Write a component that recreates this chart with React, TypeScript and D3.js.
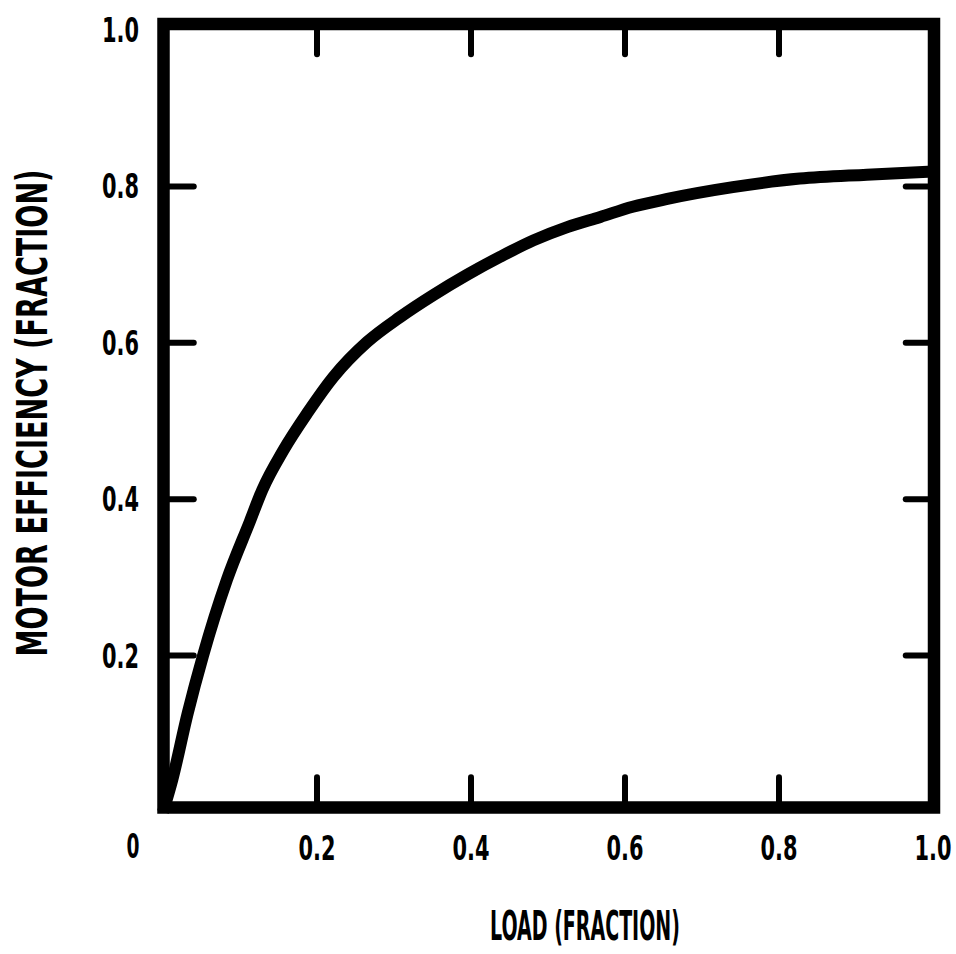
import React, { useEffect, useRef } from 'react';
import * as d3 from 'd3';

// Load (fraction of rated load)
const loads = [
  0, 0.012, 0.032, 0.052, 0.083, 0.113, 0.129, 0.156, 0.188, 0.221, 0.265, 0.308,
  0.351, 0.395, 0.438, 0.481, 0.525, 0.568, 0.61, 0.655, 0.74, 0.827, 0.914, 1.0,
];

// Motor efficiency (fraction) at each load
const efficiencies = [
  0, 0.041, 0.126, 0.2, 0.297, 0.372, 0.412, 0.462, 0.511, 0.556, 0.601, 0.633,
  0.661, 0.687, 0.71, 0.731, 0.748, 0.761, 0.774, 0.784, 0.799, 0.81, 0.815, 0.819,
];

// Tick values and their labels
const xTicks = [0.2, 0.4, 0.6, 0.8, 1.0];
const yTicks = [0.2, 0.4, 0.6, 0.8, 1.0];
const innerTicks = [0.2, 0.4, 0.6, 0.8];

const xTitle = 'LOAD (FRACTION)';
const yTitle = 'MOTOR EFFICIENCY (FRACTION)';

const FONT = '"DejaVu Sans Condensed", "Liberation Sans", sans-serif';

const App = () => {
  const chartRef = useRef<SVGSVGElement | null>(null);

  useEffect(() => {
    const width = 956;
    const height = 954;

    const svg = d3.select(chartRef.current)
      .attr('width', width)
      .attr('height', height);
    svg.selectAll('*').remove();

    // Scales
    const xScale = d3.scaleLinear().domain([0, 1]).range([163, 933]);
    const yScale = d3.scaleLinear().domain([0, 1]).range([812, 30]);

    // Narrow bold lettering: draw the text, then squeeze it to the wanted width
    const narrowText = (
      x: number, y: number, str: string, size: number, target: number,
      anchor: string, rotate = 0,
    ) => {
      const g = svg.append('g');
      const t = g.append('text')
        .attr('text-anchor', anchor)
        .attr('font-family', FONT)
        .attr('font-weight', 'bold')
        .attr('font-size', size)
        .text(str);
      const len = (t.node() as SVGTextElement).getComputedTextLength() || target;
      g.attr('transform', `translate(${x},${y}) rotate(${rotate}) scale(${target / len},1)`);
    };

    // Thick frame around the plot
    const left = xScale(0) + 0.5;
    const right = xScale(1) + 1;
    const top = yScale(1) - 6;
    const bottom = yScale(0) - 4.5;
    const frameWidth = 12.5;

    svg.append('rect')
      .attr('x', left)
      .attr('y', top)
      .attr('width', right - left)
      .attr('height', bottom - top)
      .attr('fill', 'none')
      .attr('stroke', 'black')
      .attr('stroke-width', frameWidth)
      .attr('stroke-linejoin', 'miter');

    // Inward ticks on all four sides
    const tickLen = 24 + frameWidth / 2;
    const tickStyle = (sel: any) => sel
      .attr('stroke', 'black')
      .attr('stroke-width', 6)
      .attr('stroke-linecap', 'round');

    // bottom
    svg.selectAll('.tick-bottom').data(innerTicks).enter().append('line')
      .attr('x1', d => xScale(d)).attr('x2', d => xScale(d))
      .attr('y1', bottom).attr('y2', bottom - tickLen)
      .call(tickStyle);
    // top
    svg.selectAll('.tick-top').data(innerTicks).enter().append('line')
      .attr('x1', d => xScale(d)).attr('x2', d => xScale(d))
      .attr('y1', top).attr('y2', top + tickLen)
      .call(tickStyle);
    // left
    svg.selectAll('.tick-left').data(innerTicks).enter().append('line')
      .attr('x1', left).attr('x2', left + tickLen)
      .attr('y1', d => yScale(d)).attr('y2', d => yScale(d))
      .call(tickStyle);
    // right
    svg.selectAll('.tick-right').data(innerTicks).enter().append('line')
      .attr('x1', right).attr('x2', right - tickLen + 2)
      .attr('y1', d => yScale(d)).attr('y2', d => yScale(d))
      .call(tickStyle);

    // The efficiency curve
    const points: [number, number][] = loads.map((l, i) => [l, efficiencies[i]]);
    const line = d3.line<[number, number]>()
      .x(d => xScale(d[0]))
      .y(d => yScale(d[1]))
      .curve(d3.curveMonotoneX);

    svg.append('path')
      .datum(points)
      .attr('d', line)
      .attr('fill', 'none')
      .attr('stroke', 'black')
      .attr('stroke-width', 12)
      .attr('stroke-linejoin', 'round');

    // Tick labels
    const labelSize = 33;
    yTicks.forEach(d => narrowText(139, yScale(d) + 12, d.toFixed(1), labelSize, 37, 'end'));
    xTicks.forEach(d => narrowText(xScale(d), 860, d.toFixed(1), labelSize, 37, 'middle'));

    // shared origin label, set off to the lower left
    narrowText(xScale(0) - 30, 858, '0', labelSize, 13, 'middle');

    // Axis titles
    narrowText(585, 940, xTitle, 41, 190, 'middle');
    narrowText(47, 413, yTitle, 42, 487, 'middle', -90);
  }, []);

  return (
    <svg ref={chartRef} style={{ position: 'absolute', left: 0, top: 0, background: 'white' }}></svg>
  );
};

export default App;
